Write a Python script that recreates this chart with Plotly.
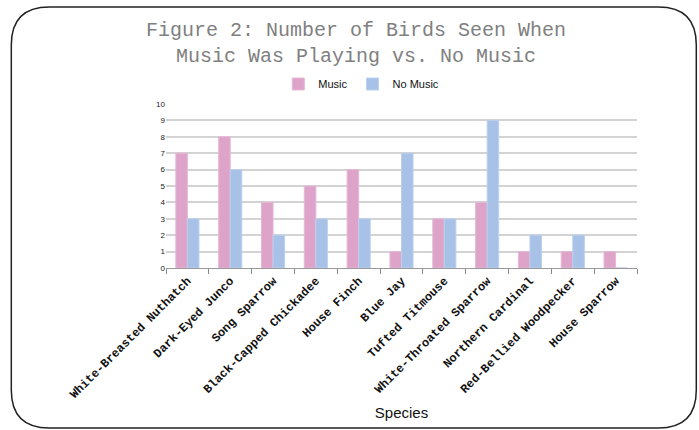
import plotly.graph_objects as go

species = ["White-Breasted Nuthatch", "Dark-Eyed Junco", "Song Sparrow",
           "Black-Capped Chickadee", "House Finch", "Blue Jay", "Tufted Titmouse",
           "White-Throated Sparrow", "Northern Cardinal", "Red-Bellied Woodpecker",
           "House Sparrow"]
music = [7, 8, 4, 5, 6, 1, 3, 4, 1, 1, 1]
no_music = [3, 6, 2, 3, 3, 7, 3, 9, 2, 2, 0]
y_ticks = list(range(0, 11))

W, H = 699, 430
L, R, T, B = 165.7, 636.7, 104, 268
pw, ph = R - L, B - T

def px(x):
    return (x - L) / pw

def py(y):
    return (B - y) / ph

fig = go.Figure()
fig.add_trace(go.Bar(name="Music", x=species, y=music,
                     marker=dict(color="#DDA3C8", line=dict(color="#E6B8D6", width=1))))
fig.add_trace(go.Bar(name="No Music", x=species, y=no_music,
                     marker=dict(color="#A8C1E6", line=dict(color="#BCD0EE", width=1))))

# rounded border around the whole chart
x0, x1, y0, y1 = px(11), px(696), py(7), py(428)
rx, ry = 38 / pw, 38 / ph
path = (f"M {x0+rx},{y0} L {x1-rx},{y0} Q {x1},{y0} {x1},{y0-ry} "
        f"L {x1},{y1+ry} Q {x1},{y1} {x1-rx},{y1} "
        f"L {x0+rx},{y1} Q {x0},{y1} {x0},{y1+ry} "
        f"L {x0},{y0-ry} Q {x0},{y0} {x0+rx},{y0} Z")
fig.add_shape(type="path", path=path, xref="paper", yref="paper",
              line=dict(color="#222222", width=1.5), layer="below")

fig.update_layout(
    width=W, height=H,
    margin=dict(l=L, r=W - R, t=T, b=H - B, autoexpand=False),
    paper_bgcolor="white", plot_bgcolor="white",
    barmode="group", bargap=0.46, bargroupgap=0,
    title=dict(text="Figure 2: Number of Birds Seen When<br>Music Was Playing vs. No Music",
               font=dict(family="Liberation Mono, Courier New, monospace", size=20, color="#808080"),
               xref="container", x=356 / W, xanchor="center",
               yref="container", y=1 - 36 / H, yanchor="top"),
    legend=dict(orientation="h", x=px(361), xanchor="center", y=py(84), yanchor="middle",
                font=dict(family="Liberation Sans, Arial, sans-serif", size=11, color="#111111"),
                itemwidth=30, traceorder="normal", bgcolor="rgba(0,0,0,0)"),
    font=dict(family="Liberation Sans, Arial, sans-serif"),
)

fig.update_xaxes(
    type="category", tickangle=-45, tickson="boundaries",
    ticks="outside", ticklen=5, tickcolor="#888888",
    showline=True, linecolor="#999999", linewidth=1.2, showgrid=False,
    tickfont=dict(family="Liberation Mono, Courier New, monospace", size=12, color="#111111",
                  weight="bold"),
    title=dict(text="Species", font=dict(family="Liberation Sans, Arial, sans-serif", size=15, color="#111111"),
               standoff=6),
    automargin=False,
)
fig.update_yaxes(
    range=[0, 10], tickvals=y_ticks, showline=False, zeroline=False,
    showgrid=True, gridcolor="#D3D3D3", gridwidth=1.5,
    tickfont=dict(family="Liberation Sans, Arial, sans-serif", size=8, color="#222222"),
    automargin=False,
)

fig.write_html("out.html", config={"displayModeBar": False},
               post_script="document.body.style.margin='0';")
